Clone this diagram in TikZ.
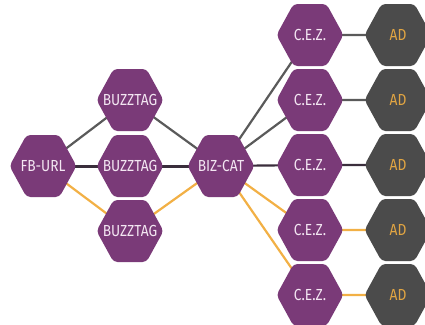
\documentclass[tikz,border=0pt]{standalone}
\usepackage{fontspec}
\setmainfont{Fira Sans}[FakeStretch=0.86]
\usepackage{tikz}
\usetikzlibrary{backgrounds}

\definecolor{hexpurple}{HTML}{7A3A78}
\definecolor{hexgray}{HTML}{4B4B4B}
\definecolor{hexlabel}{HTML}{F3E6F2}
\definecolor{adlabel}{HTML}{E2A542}
\definecolor{linegray}{HTML}{5A5A5A}
\definecolor{linedark}{HTML}{3A2E3C}
\definecolor{lineorange}{HTML}{F2B045}

\tikzset{
  hexcell/.style={minimum width=67pt, minimum height=62pt, inner sep=0pt,
    text=hexlabel, font=\fontsize{16}{18}\selectfont,
    path picture={\fill[#1, rounded corners=4pt]
      (path picture bounding box.west)
      -- ([xshift=-16.5pt]path picture bounding box.north)
      -- ([xshift=16.5pt]path picture bounding box.north)
      -- (path picture bounding box.east)
      -- ([xshift=16.5pt]path picture bounding box.south)
      -- ([xshift=-16.5pt]path picture bounding box.south) -- cycle;}},
  hexcell/.default=hexpurple,
  adcell/.style={hexcell=hexgray, text=adlabel},
  link/.style={line width=2.2pt},
}

\begin{document}
\begin{tikzpicture}[x=1pt,y=-1pt]
\useasboundingbox (0,0) rectangle (425,324);

% Define the row height of the right columns
\def\rowh{65}

% Left part of the graph
\node[hexcell] (fburl) at (43,166) {FB-URL};
\node[hexcell] (buzz1) at (130,100) {BUZZTAG};
\node[hexcell] (buzz2) at (130,166) {BUZZTAG};
\node[hexcell] (buzz3) at (130,231) {BUZZTAG};
\node[hexcell] (bizcat) at (221,166) {BIZ-CAT};

% Right columns
\foreach \i in {1,...,5} {
    \node[hexcell] (cez\i) at (310,{35+\rowh*(\i-1)}) {C.E.Z.};
    \node[adcell] (ad\i) at (398,{35+\rowh*(\i-1)}) {AD};
}

% Connectors behind the cells
\begin{scope}[on background layer]
\foreach \a/\b/\c in {fburl/buzz1/linegray, fburl/buzz3/lineorange,
                      buzz1/bizcat/linegray, buzz3/bizcat/lineorange} {
    \draw[link, \c] (\a.center) -- (\b.center);
}
\draw[link, linedark, line width=3pt] (fburl.center) -- (buzz2.center) -- (bizcat.center);
\foreach \i/\c in {1/linegray, 2/linegray, 3/linedark, 4/lineorange, 5/lineorange} {
    \draw[link, \c] (bizcat.center) -- (cez\i.center) -- (ad\i.center);
}
\end{scope}
\end{tikzpicture}
\end{document}
